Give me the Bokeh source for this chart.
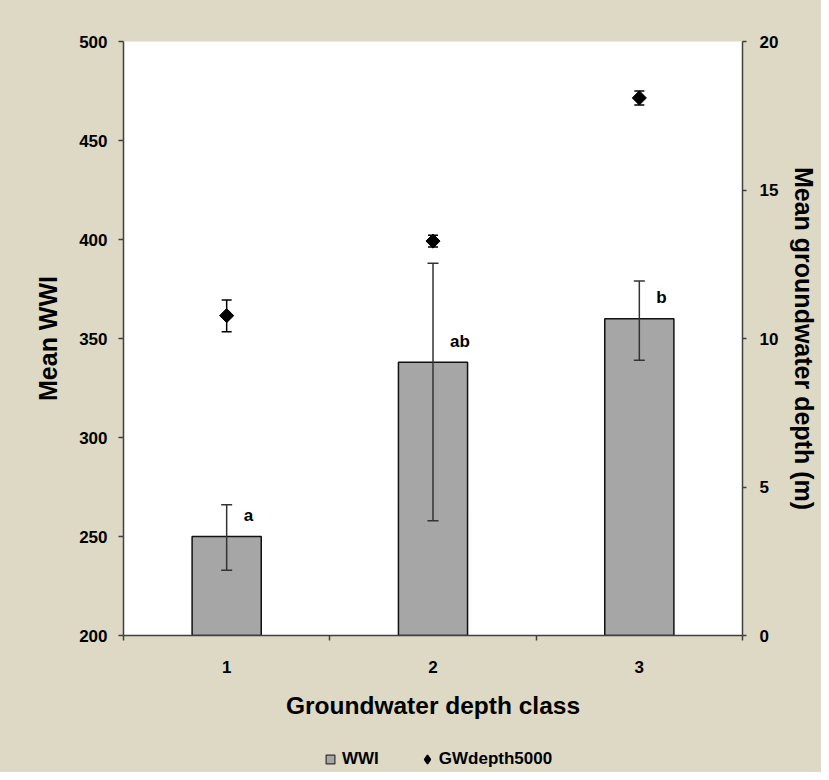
from bokeh.plotting import figure
from bokeh.layouts import column
from bokeh.models import (ColumnDataSource, Range1d, LinearAxis, FixedTicker, Whisker,
                          TeeHead, Legend, LegendItem)
from bokeh.core.properties import value
from bokeh.embed import file_html
from bokeh.resources import INLINE

# ---- data ----
classes = [1, 2, 3]
class_labels = ["1", "2", "3"]
wwi_mean = [250, 338, 360]
wwi_upper = [266, 388, 379]
wwi_lower = [233, 258, 339]
gw_mean = [10.77, 13.28, 18.1]
gw_upper = [11.3, 13.48, 18.33]
gw_lower = [10.23, 13.08, 17.86]
sig_letters = ["a", "ab", "b"]
series_names = ["WWI", "GWdepth5000"]

BG = "#DDD9C4"
FONT = "Liberation Sans"
AX = "#404040"
BAR_FILL = "#A6A6A6"

src = ColumnDataSource(dict(x=classes, m=wwi_mean, up=wwi_upper, lo=wwi_lower,
                            g=gw_mean, gup=gw_upper, glo=gw_lower, lab=sig_letters))

p = figure(width=821, height=742, output_backend="svg", toolbar_location=None,
           x_range=Range1d(0.5, 3.5), y_range=Range1d(200, 500),
           min_border_left=123, min_border_right=78, min_border_top=41, min_border_bottom=107)
p.border_fill_color = BG
p.background_fill_color = "white"
p.outline_line_color = None
p.xgrid.visible = False
p.ygrid.visible = False
p.extra_y_ranges = {"gw": Range1d(0, 20)}

p.vbar(x="x", top="m", bottom=200, width=0.335, source=src,
       fill_color=BAR_FILL, line_color="#111111", line_width=1.5)
p.add_layout(Whisker(source=src, base="x", upper="up", lower="lo", level="overlay",
                     line_color="#333333", line_width=1.5,
                     upper_head=TeeHead(size=11, line_color="#333333", line_width=1.5),
                     lower_head=TeeHead(size=11, line_color="#333333", line_width=1.5)))

p.add_layout(Whisker(source=src, base="x", upper="gup", lower="glo", y_range_name="gw",
                     level="overlay", line_color="black", line_width=1.5,
                     upper_head=TeeHead(size=10, line_color="black", line_width=1.5),
                     lower_head=TeeHead(size=10, line_color="black", line_width=1.5)))
p.scatter(x="x", y="g", source=src, y_range_name="gw", marker="square",
          angle=0.785398, size=10, fill_color="black", line_color="black")

p.text(x="x", y="m", text="lab", source=src, x_offset=17, y_offset=-21,
       text_font=value(FONT), text_font_style="bold", text_font_size="17px",
       text_color="black", text_align="left", text_baseline="middle")

# axes
xa = p.xaxis[0]
xa.ticker = FixedTicker(ticks=classes, minor_ticks=[0.5, 1.5, 2.5, 3.5])
xa.major_label_overrides = {c: l for c, l in zip(classes, class_labels)}
xa.major_tick_out = 0
xa.major_tick_in = 0
xa.minor_tick_out = 5
xa.minor_tick_in = 0
xa.minor_tick_line_color = AX
xa.minor_tick_line_width = 1.5
xa.axis_line_color = AX
xa.axis_line_width = 1.5
xa.major_label_standoff = 20
xa.major_label_text_font = FONT
xa.major_label_text_font_style = "bold"
xa.major_label_text_font_size = "17px"
xa.major_label_text_color = "black"
xa.axis_label = "Groundwater depth class"
xa.axis_label_text_font = FONT
xa.axis_label_text_font_style = "bold"
xa.axis_label_text_font_size = "24.5px"
xa.axis_label_text_color = "black"
xa.axis_label_standoff = 16

ya = p.yaxis[0]
ya.ticker = FixedTicker(ticks=[200, 250, 300, 350, 400, 450, 500])
ya.minor_tick_line_color = None
ya.major_tick_out = 5
ya.major_tick_in = 0
ya.major_tick_line_color = AX
ya.major_tick_line_width = 1.5
ya.axis_line_color = AX
ya.axis_line_width = 1.5
ya.major_label_standoff = 11
ya.major_label_text_font = FONT
ya.major_label_text_font_style = "bold"
ya.major_label_text_font_size = "17px"
ya.major_label_text_color = "black"
ya.axis_label = "Mean WWI"
ya.axis_label_text_font = FONT
ya.axis_label_text_font_style = "bold"
ya.axis_label_text_font_size = "25px"
ya.axis_label_text_color = "black"
ya.axis_label_standoff = 14

ra = LinearAxis(y_range_name="gw", ticker=FixedTicker(ticks=[0, 5, 10, 15, 20]))
ra.minor_tick_line_color = None
ra.major_tick_out = 4
ra.major_tick_in = 0
ra.major_tick_line_color = AX
ra.major_tick_line_width = 1.5
ra.axis_line_color = AX
ra.axis_line_width = 1.5
ra.major_label_standoff = 13
ra.major_label_text_font = FONT
ra.major_label_text_font_style = "bold"
ra.major_label_text_font_size = "17px"
ra.major_label_text_color = "black"
ra.axis_label = "Mean groundwater depth (m)"
ra.axis_label_text_font = FONT
ra.axis_label_text_font_style = "bold"
ra.axis_label_text_font_size = "25px"
ra.axis_label_text_color = "black"
ra.axis_label_standoff = 9
p.add_layout(ra, "right")

# legend strip (separate figure so it is not clipped by the plot frame)
lg = figure(width=821, height=30, output_backend="svg", toolbar_location=None,
            x_axis_location=None, y_axis_location=None,
            x_range=Range1d(0, 1), y_range=Range1d(0, 1),
            min_border_left=123, min_border_right=78, min_border_top=0, min_border_bottom=0)
lg.border_fill_alpha = 0
lg.background_fill_alpha = 0
lg.outline_line_color = None
lg.xgrid.visible = False
lg.ygrid.visible = False
dummy = ColumnDataSource(dict(x=[-10], y=[-10]))
r_bar = lg.scatter(x="x", y="y", source=dummy, marker="square", size=8,
                   fill_color=BAR_FILL, line_color="#333333", line_width=1.2)
r_dia = lg.scatter(x="x", y="y", source=dummy, marker="diamond", size=10,
                   fill_color="black", line_color="black", line_width=1.5)
legend = Legend(items=[LegendItem(label=series_names[0], renderers=[r_bar]),
                       LegendItem(label=series_names[1], renderers=[r_dia])],
                orientation="horizontal", location=(196, 2),
                background_fill_alpha=0, border_line_color=None,
                label_text_font=FONT, label_text_font_style="bold",
                label_text_font_size="17px", label_text_color="black",
                glyph_width=22, glyph_height=22, label_standoff=1, spacing=37,
                padding=0, margin=0)
lg.add_layout(legend, "center")

layout = column(p, lg, spacing=0, styles={"background-color": BG})
open("out.html", "w").write(file_html(layout, INLINE))
